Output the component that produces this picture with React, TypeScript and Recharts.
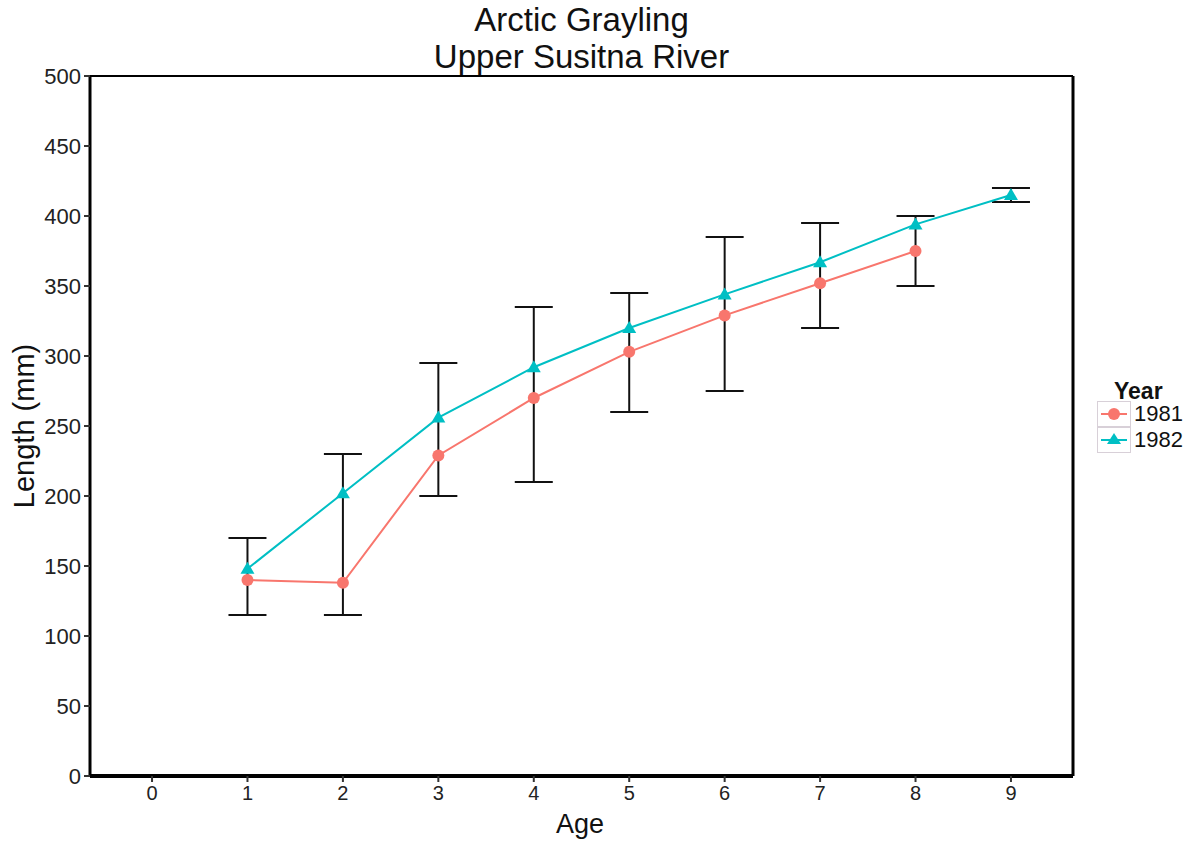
import React from 'react'
import {
  ComposedChart, Line, XAxis, YAxis, ErrorBar, ReferenceLine,
} from 'recharts'

const ages = [1, 2, 3, 4, 5, 6, 7, 8, 9]
const len1981 = [140, 138, 229, 270, 303, 329, 352, 375, null]
const len1982 = [148, 202, 256, 292, 320, 344, 367, 394, 415]
const errLow = [115, 115, 200, 210, 260, 275, 320, 350, 410]
const errHigh = [170, 230, 295, 335, 345, 385, 395, 400, 420]
const xTicks = [0, 1, 2, 3, 4, 5, 6, 7, 8, 9]
const yTicks = [0, 50, 100, 150, 200, 250, 300, 350, 400, 450, 500]

const RED = '#F8766D'
const TEAL = '#00BFC4'
const FONT = '"Liberation Sans", Arial, sans-serif'

const data = ages.map((age, i) => {
  const mid = (errLow[i] + errHigh[i]) / 2
  return {
    age,
    y1981: len1981[i],
    y1982: len1982[i],
    mid,
    err: [mid - errLow[i], errHigh[i] - mid],
  }
})

function Triangle(props: any) {
  const { cx, cy } = props
  if (cx == null || cy == null || props.value == null) return null
  return <path d={`M${cx},${cy - 7} L${cx + 7},${cy + 5} L${cx - 7},${cy + 5} Z`} fill={TEAL} />
}

function Dot(props: any) {
  const { cx, cy } = props
  if (cx == null || cy == null || props.value == null) return null
  return <circle cx={cx} cy={cy} r={6} fill={RED} />
}

function KeyBox({ color, tri }: { color: string; tri?: boolean }) {
  return (
    <svg width={34} height={26} style={{ display: 'block' }}>
      <rect x={0.5} y={0.5} width={33} height={25} fill="#fff" stroke="#d8d0d8" />
      <line x1={4} y1={13} x2={30} y2={13} stroke={color} strokeWidth={2} />
      {tri
        ? <path d="M17,6 L24,17 L10,17 Z" fill={color} />
        : <circle cx={17} cy={13} r={6} fill={color} />}
    </svg>
  )
}

export default function App() {
  return (
    <div style={{ position: 'relative', width: 1192, height: 843, background: '#fff', fontFamily: FONT }}>
      <style>{'body{margin:0}'}</style>
      <div style={{ position: 'absolute', left: 90, width: 983, top: 1, textAlign: 'center', fontSize: 33, lineHeight: '37px', color: '#111' }}>
        Arctic Grayling<br />Upper Susitna River
      </div>
      <div style={{ position: 'absolute', left: 24, top: 426, transform: 'translate(-50%, -50%) rotate(-90deg)', fontSize: 29, color: '#111', whiteSpace: 'nowrap' }}>
        Length (mm)
      </div>
      <div style={{ position: 'absolute', left: 580, top: 824, transform: 'translate(-50%, -50%)', fontSize: 27, color: '#111' }}>
        Age
      </div>

      <ComposedChart width={1192} height={843} data={data} margin={{ top: 76, right: 119, left: 30, bottom: 0 }}>
        <XAxis
          dataKey="age" type="number" domain={[-0.65, 9.65]} ticks={xTicks} interval={0}
          axisLine={{ stroke: '#000', strokeWidth: 4 }} tickLine={{ stroke: '#333', strokeWidth: 2 }}
          tickSize={6} tickMargin={4} height={67}
          tick={{ fontSize: 20, fill: '#222', fontFamily: FONT }}
        />
        <YAxis
          type="number" domain={[0, 500]} ticks={yTicks} interval={0} width={60}
          axisLine={{ stroke: '#000', strokeWidth: 3 }} tickLine={{ stroke: '#333', strokeWidth: 2 }}
          tickSize={6} tickMargin={3}
          tick={{ fontSize: 22, fill: '#222', fontFamily: FONT }}
        />
        <ReferenceLine y={500} stroke="#000" strokeWidth={2} />
        <ReferenceLine x={9.65} stroke="#000" strokeWidth={3} />
        <Line dataKey="mid" stroke="none" dot={false} activeDot={false} legendType="none" isAnimationActive={false}>
          <ErrorBar dataKey="err" width={19} stroke="#111" strokeWidth={2} direction="y" />
        </Line>
        <Line dataKey="y1981" stroke={RED} strokeWidth={2} dot={<Dot />} activeDot={false} isAnimationActive={false} />
        <Line dataKey="y1982" stroke={TEAL} strokeWidth={2} dot={<Triangle />} activeDot={false} isAnimationActive={false} />
      </ComposedChart>

      <div style={{ position: 'absolute', left: 1097, top: 378, color: '#111' }}>
        <div style={{ fontWeight: 'bold', fontSize: 23, lineHeight: '26px', marginLeft: 17, marginBottom: -3 }}>Year</div>
        <div style={{ display: 'flex', alignItems: 'center' }}>
          <KeyBox color={RED} />
          <span style={{ fontSize: 22, marginLeft: 3 }}>1981</span>
        </div>
        <div style={{ display: 'flex', alignItems: 'center' }}>
          <KeyBox color={TEAL} tri />
          <span style={{ fontSize: 22, marginLeft: 3 }}>1982</span>
        </div>
      </div>
    </div>
  )
}
